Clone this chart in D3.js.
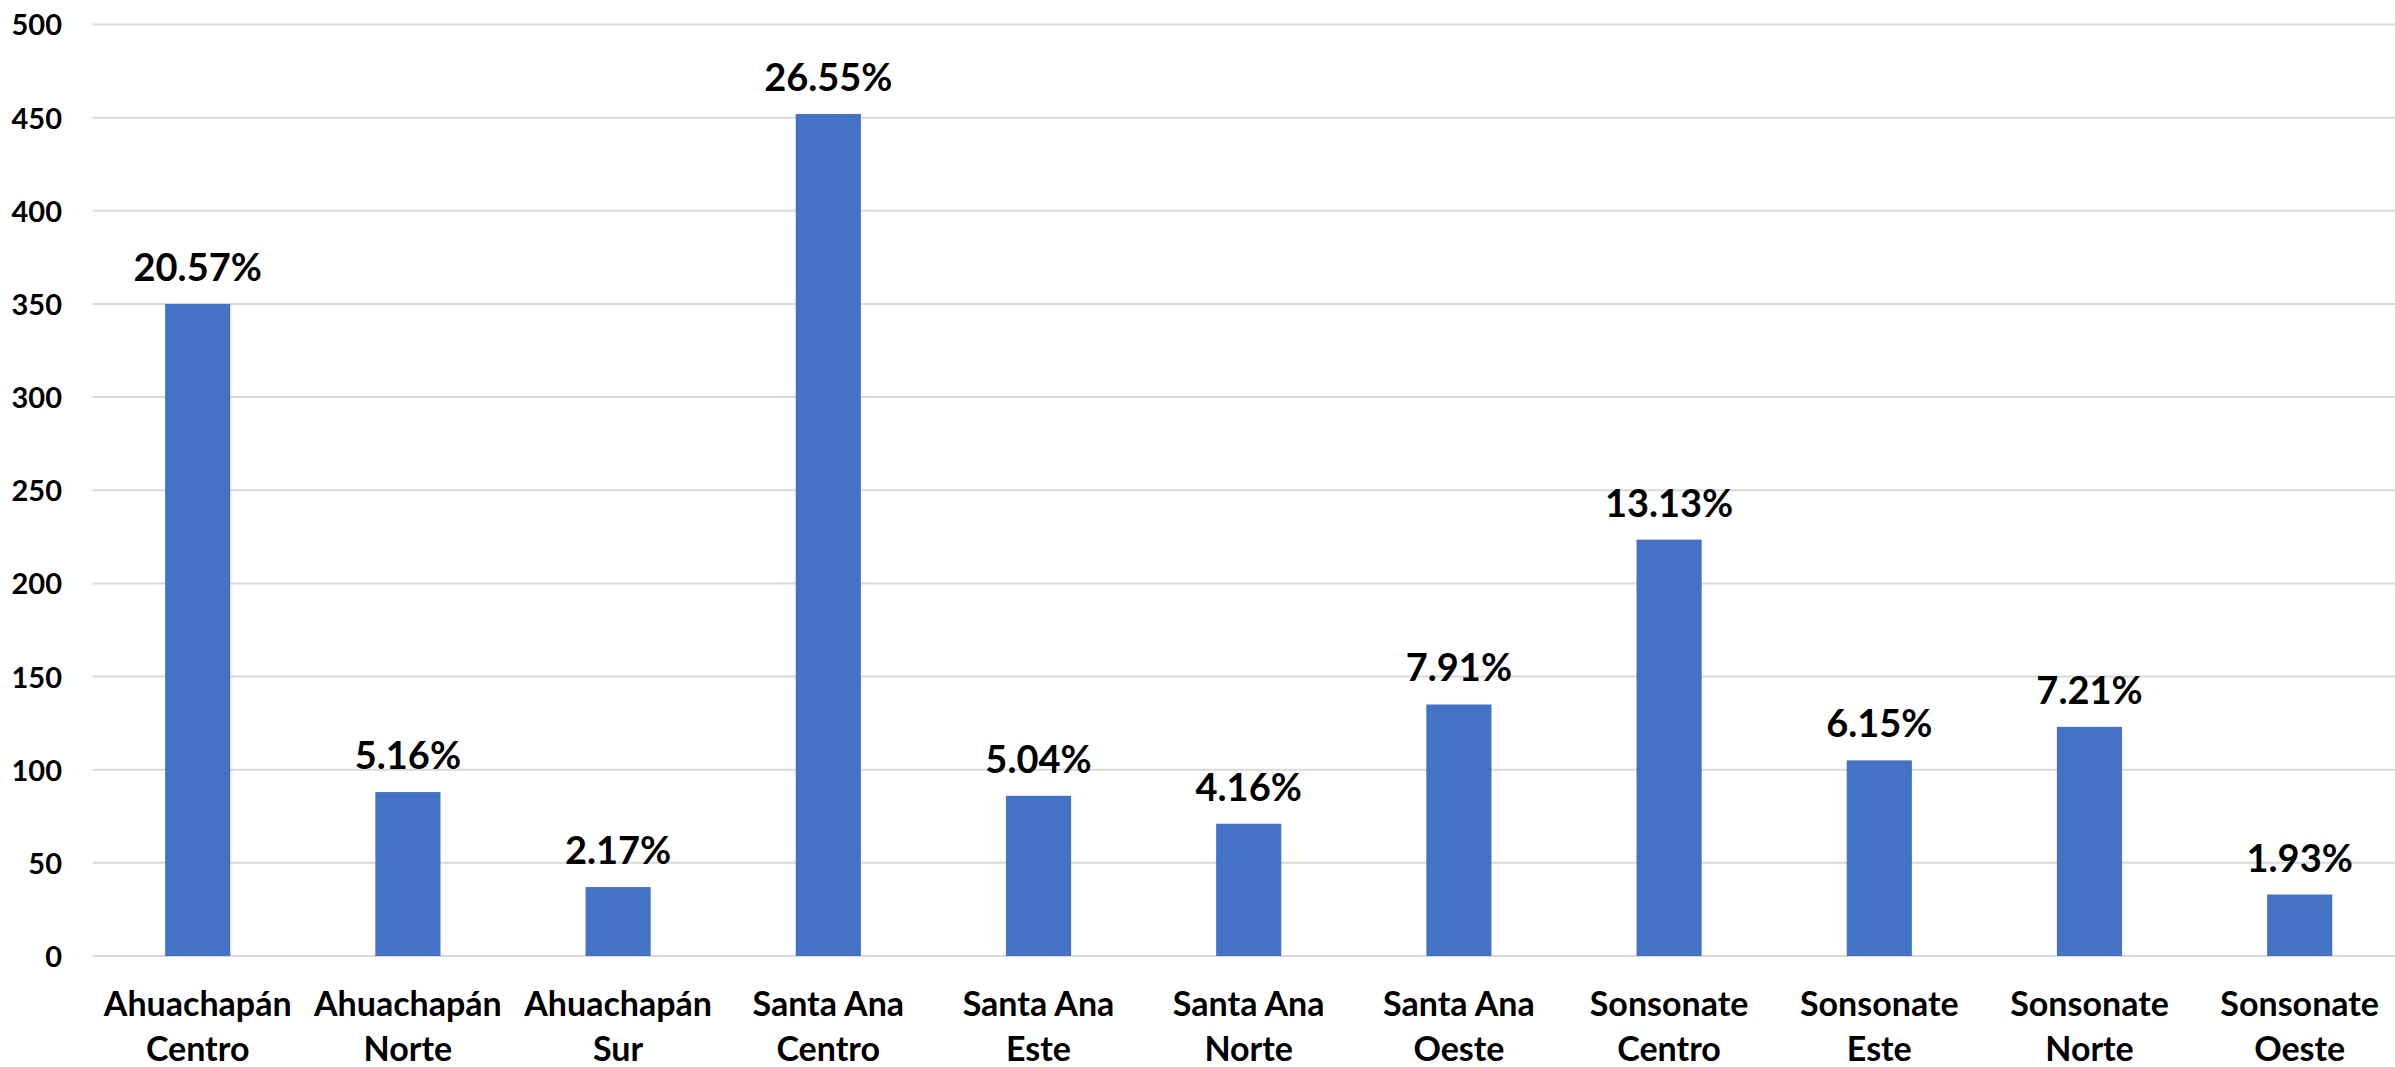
<!DOCTYPE html>
<html>
<head>
<meta charset="utf-8">
<script src="https://cdn.jsdelivr.net/npm/d3@7"></script>
<style>
  html, body { margin: 0; padding: 0; background: #ffffff; overflow: hidden; }
  svg { display: block; }
  text { font-family: Lato, "Open Sans", sans-serif; font-weight: 700; fill: #000; }
</style>
</head>
<body>
<svg id="chart" width="2395" height="1067"></svg>
<script>
const categories = [
  ["Ahuachapán", "Centro"],
  ["Ahuachapán", "Norte"],
  ["Ahuachapán", "Sur"],
  ["Santa Ana", "Centro"],
  ["Santa Ana", "Este"],
  ["Santa Ana", "Norte"],
  ["Santa Ana", "Oeste"],
  ["Sonsonate", "Centro"],
  ["Sonsonate", "Este"],
  ["Sonsonate", "Norte"],
  ["Sonsonate", "Oeste"]
];
const values = [350, 88, 37, 452, 86, 71, 135, 223.5, 105, 123, 33];
const percentLabels = ["20.57%", "5.16%", "2.17%", "26.55%", "5.04%", "4.16%", "7.91%", "13.13%", "6.15%", "7.21%", "1.93%"];
const yTicks = [0, 50, 100, 150, 200, 250, 300, 350, 400, 450, 500];

const svg = d3.select("#chart");
const plotLeft = 92.6, plotRight = 2404.8, plotTop = 24.5, plotBottom = 956;

const keys = categories.map((c, i) => i);
const x = d3.scaleBand().domain(keys).range([plotLeft, plotRight]).paddingInner(0.69).paddingOuter(0.345);
const y = d3.scaleLinear().domain([0, 500]).range([plotBottom, plotTop]);

// gridlines
svg.append("g")
  .selectAll("line")
  .data(yTicks)
  .join("line")
  .attr("x1", plotLeft).attr("x2", plotRight)
  .attr("y1", d => y(d)).attr("y2", d => y(d))
  .attr("stroke", "#d9d9d9").attr("stroke-width", 2);

// y axis labels
const yAxis = d3.axisLeft(y).tickValues(yTicks).tickSize(0).tickPadding(0);
const yg = svg.append("g").attr("transform", "translate(62,0)").call(yAxis);
yg.select(".domain").remove();
yg.selectAll("text")
  .attr("font-size", 29)
  .attr("font-family", "Lato, 'Open Sans', sans-serif")
  .attr("font-weight", 700)
  .attr("fill", "#000")
  .attr("dy", "0.36em");

// bars
svg.append("g")
  .selectAll("rect")
  .data(values)
  .join("rect")
  .attr("x", (d, i) => x(i))
  .attr("width", x.bandwidth())
  .attr("y", d => y(d))
  .attr("height", d => y(0) - y(d))
  .attr("fill", "#4472c4");

// data labels
svg.append("g")
  .selectAll("text")
  .data(values)
  .join("text")
  .attr("x", (d, i) => x(i) + x.bandwidth() / 2)
  .attr("y", d => y(d) - 23)
  .attr("text-anchor", "middle")
  .attr("font-size", 38)
  .text((d, i) => percentLabels[i]);

// category labels
const xg = svg.append("g");
categories.forEach((c, i) => {
  const cx = x(i) + x.bandwidth() / 2;
  const t = xg.append("text")
    .attr("x", cx)
    .attr("y", 1016)
    .attr("text-anchor", "middle")
    .attr("font-size", 34);
  c.forEach((line, j) => {
    t.append("tspan")
      .attr("x", cx)
      .attr("y", 1016 + j * 45)
      .text(line);
  });
});
</script>
</body>
</html>
